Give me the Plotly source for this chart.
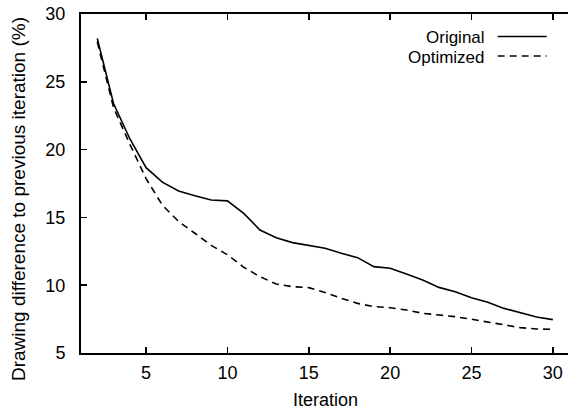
import plotly.graph_objects as go

iterations = list(range(2, 31))
original = [28.2, 23.4, 20.8, 18.67, 17.6, 16.95, 16.6, 16.28, 16.22, 15.3,
            14.07, 13.5, 13.14, 12.92, 12.72, 12.35, 12.03, 11.37, 11.25, 10.83,
            10.38, 9.84, 9.52, 9.08, 8.74, 8.29, 7.95, 7.65, 7.46]
optimized = [27.95, 23.1, 20.4, 17.86, 15.9, 14.7, 13.83, 12.94, 12.25, 11.32,
             10.63, 10.09, 9.89, 9.82, 9.47, 9.03, 8.66, 8.42, 8.34, 8.17,
             7.93, 7.8, 7.68, 7.49, 7.29, 7.09, 6.87, 6.77, 6.75]
series_names = ["Original", "Optimized"]
x_ticks = [5, 10, 15, 20, 25, 30]
y_ticks = [5, 10, 15, 20, 25, 30]

FONT = "Liberation Sans, Arial, Helvetica, sans-serif"

fig = go.Figure()
fig.add_trace(go.Scatter(x=iterations, y=original, mode="lines", name=series_names[0],
                         line=dict(color="black", width=1.6)))
fig.add_trace(go.Scatter(x=iterations, y=optimized, mode="lines", name=series_names[1],
                         line=dict(color="black", width=1.6, dash="7px,5px")))

L, R, T, B = 81, 0, 14, 59
W, H = 568, 412
pw = W - L - R
ph = H - T - B
px_per_x = 16.27
x_max = 1 + pw / px_per_x

fig.update_layout(
    width=W, height=H,
    margin=dict(l=L, r=R, t=T, b=B, pad=0),
    paper_bgcolor="white", plot_bgcolor="white",
    showlegend=False,
    font=dict(family=FONT, size=18, color="black"),
)
fig.update_xaxes(range=[1, x_max], tickvals=x_ticks, ticks="inside", ticklen=6,
                 tickwidth=1.5, tickcolor="black", showline=True, linecolor="black",
                 linewidth=2, mirror="ticks", showgrid=False, zeroline=False,
                 ticklabelstandoff=2, tickfont=dict(size=18))
fig.update_yaxes(range=[5, 30], tickvals=y_ticks, ticks="inside", ticklen=6,
                 tickwidth=1.5, tickcolor="black", showline=True, linecolor="black",
                 linewidth=2, mirror=False, showgrid=False, zeroline=False,
                 ticklabelstandoff=10, tickfont=dict(size=18))

def px_x(p):
    return (p - L) / pw

def px_y(p):
    return (H - B - p) / ph

# axis titles
fig.add_annotation(text="Iteration", xref="paper", yref="paper",
                   x=px_x(325), y=px_y(400), xanchor="center", yanchor="middle",
                   showarrow=False, font=dict(size=18))
fig.add_annotation(text="Drawing difference to previous iteration (%)", xref="paper",
                   yref="paper", x=px_x(18), y=px_y(199), xanchor="center",
                   yanchor="middle", textangle=-90, showarrow=False,
                   font=dict(size=19))

# legend (text left of sample line, as in the original)
legend_rows = [(series_names[0], 36.5, "solid"), (series_names[1], 56, "7px,5px")]
for name, ypx, dash in legend_rows:
    fig.add_annotation(text=name, xref="paper", yref="paper", x=px_x(487),
                       y=px_y(ypx + 1), xanchor="right", yanchor="middle",
                       showarrow=False, font=dict(size=17))
    fig.add_shape(type="line", xref="paper", yref="paper",
                  x0=px_x(497.7), x1=px_x(546.7), y0=px_y(ypx), y1=px_y(ypx),
                  line=dict(color="black", width=1.6, dash=dash))

fig.write_html("out.html",
               config={"displayModeBar": False, "staticPlot": True},
               post_script="document.body.style.margin='0';document.body.style.overflow='hidden';")
